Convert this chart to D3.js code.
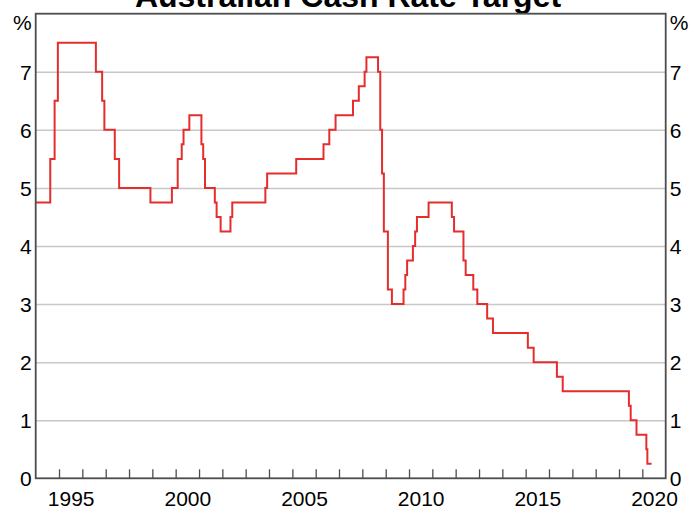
<!DOCTYPE html>
<html>
<head>
<meta charset="utf-8">
<script src="https://cdn.jsdelivr.net/npm/d3@7"></script>
<style>
  body { margin: 0; background: #fff; }
  svg { display: block; font-family: Arial, "Liberation Sans", sans-serif; }
  .domain { display: none; }
</style>
</head>
<body>
<div id="chart"></div>
<script>
// cash rate target changes (date of change, new rate %)
const changeDates = [
  '1993-07-30', '1994-08-17', '1994-10-24', '1994-12-14', '1996-07-31', '1996-11-06',
  '1996-12-11', '1997-05-23', '1997-07-30', '1998-12-02', '1999-11-03', '2000-02-02',
  '2000-04-05', '2000-05-03', '2000-08-02', '2001-02-07', '2001-03-07', '2001-04-04',
  '2001-09-05', '2001-10-03', '2001-12-05', '2002-05-08', '2002-06-05', '2003-11-05',
  '2003-12-03', '2005-03-02', '2006-05-03', '2006-08-02', '2006-11-08', '2007-08-08',
  '2007-11-07', '2008-02-06', '2008-03-05', '2008-09-03', '2008-10-08', '2008-11-05',
  '2008-12-03', '2009-02-04', '2009-04-08', '2009-10-07', '2009-11-04', '2009-12-02',
  '2010-03-03', '2010-04-07', '2010-05-05', '2010-11-03', '2011-11-02', '2011-12-07',
  '2012-05-02', '2012-06-06', '2012-10-03', '2012-12-05', '2013-05-08', '2013-08-07',
  '2015-02-04', '2015-05-06', '2016-05-04', '2016-08-03', '2019-06-05', '2019-07-03',
  '2019-10-02', '2020-03-04', '2020-03-20', '2020-05-25'
]
const rates = [
  4.75, 5.5, 6.5, 7.5, 7.0, 6.5,
  6.0, 5.5, 5.0, 4.75, 5.0, 5.5,
  5.75, 6.0, 6.25, 5.75, 5.5, 5.0,
  4.75, 4.5, 4.25, 4.5, 4.75, 5.0,
  5.25, 5.5, 5.75, 6.0, 6.25, 6.5,
  6.75, 7.0, 7.25, 7.0, 6.0, 5.25,
  4.25, 3.25, 3.0, 3.25, 3.5, 3.75,
  4.0, 4.25, 4.5, 4.75, 4.5, 4.25,
  3.75, 3.5, 3.25, 3.0, 2.75, 2.5,
  2.25, 2.0, 1.75, 1.5, 1.25, 1.0,
  0.75, 0.5, 0.25, 0.25
]
const yTicks = [0, 1, 2, 3, 4, 5, 6, 7]
const yearLabels = [1995, 2000, 2005, 2010, 2015, 2020]
const title = 'Australian Cash Rate Target'

const width = 692, height = 510
const margin = { top: 13.7, right: 26.3, bottom: 31.7, left: 35.7 }
const innerW = width - margin.left - margin.right
const innerH = height - margin.top - margin.bottom

const parse = d3.timeParse('%Y-%m-%d')
const data = changeDates.map((d, i) => ({ date: parse(d), rate: rates[i] }))

const svg = d3.select('#chart').append('svg').attr('width', width).attr('height', height)

svg.append('text')
    .attr('x', width / 2 + 2).attr('y', 7)
    .attr('text-anchor', 'middle')
    .style('font-size', '32px').style('font-weight', 'bold').style('fill', '#000')
    .text(title)

const g = svg.append('g').attr('transform', `translate(${margin.left},${margin.top})`)

const x = d3.scaleTime()
    .domain([new Date(1994, 0, 1), new Date(2021, 0, 1)])
    .range([0, innerW])
const y = d3.scaleLinear().domain([0, 8]).range([innerH, 0])

// gridlines
g.append('g').attr('class', 'grid')
    .call(d3.axisLeft(y).tickValues(yTicks.filter(v => v > 0)).tickSize(-innerW).tickFormat(''))
    .call(s => s.selectAll('line').attr('stroke', '#c8c8c8').attr('stroke-width', 1.5))

// left & right labels
const yLeft = g.append('g')
    .call(d3.axisLeft(y).tickValues(yTicks).tickSize(0).tickPadding(4))
const yRight = g.append('g').attr('transform', `translate(${innerW},0)`)
    .call(d3.axisRight(y).tickValues(yTicks).tickSize(0).tickPadding(4))
;[yLeft, yRight].forEach(a => {
    a.selectAll('text').style('font-size', '21px').style('fill', '#000').attr('dy', '0.36em')
})
g.append('text').attr('x', -4).attr('y', y(7.85)).attr('dy', '0.36em')
    .attr('text-anchor', 'end').style('font-size', '21px').text('%')
g.append('text').attr('x', innerW + 4).attr('y', y(7.85)).attr('dy', '0.36em')
    .attr('text-anchor', 'start').style('font-size', '21px').text('%')

// x ticks (inside) and centred year labels
const years = d3.range(1995, 2021).map(yr => new Date(yr, 0, 1))
g.append('g').attr('transform', `translate(0,${innerH})`)
    .call(d3.axisBottom(x).tickValues(years).tickSize(-9).tickFormat(''))
    .call(s => s.selectAll('line').attr('stroke', '#4d4d4d').attr('stroke-width', 1.3))
g.append('g').attr('transform', `translate(0,${innerH})`)
    .call(d3.axisBottom(x).tickValues(yearLabels.map(yr => new Date(yr, 6, 2)))
        .tickSize(0).tickPadding(13).tickFormat(d3.timeFormat('%Y')))
    .call(s => s.selectAll('text').style('font-size', '21px').style('fill', '#000'))

// series
g.append('clipPath').attr('id', 'clip')
    .append('rect').attr('width', innerW).attr('height', innerH)
g.append('path')
    .datum(data)
    .attr('clip-path', 'url(#clip)')
    .attr('fill', 'none')
    .attr('stroke', '#e42d2d')
    .attr('stroke-width', 2)
    .attr('d', d3.line().curve(d3.curveStepAfter).x(d => x(d.date)).y(d => y(d.rate)))

// frame
g.append('rect')
    .attr('width', innerW).attr('height', innerH)
    .attr('fill', 'none').attr('stroke', '#4d4d4d').attr('stroke-width', 1.8)
</script>
</body>
</html>
